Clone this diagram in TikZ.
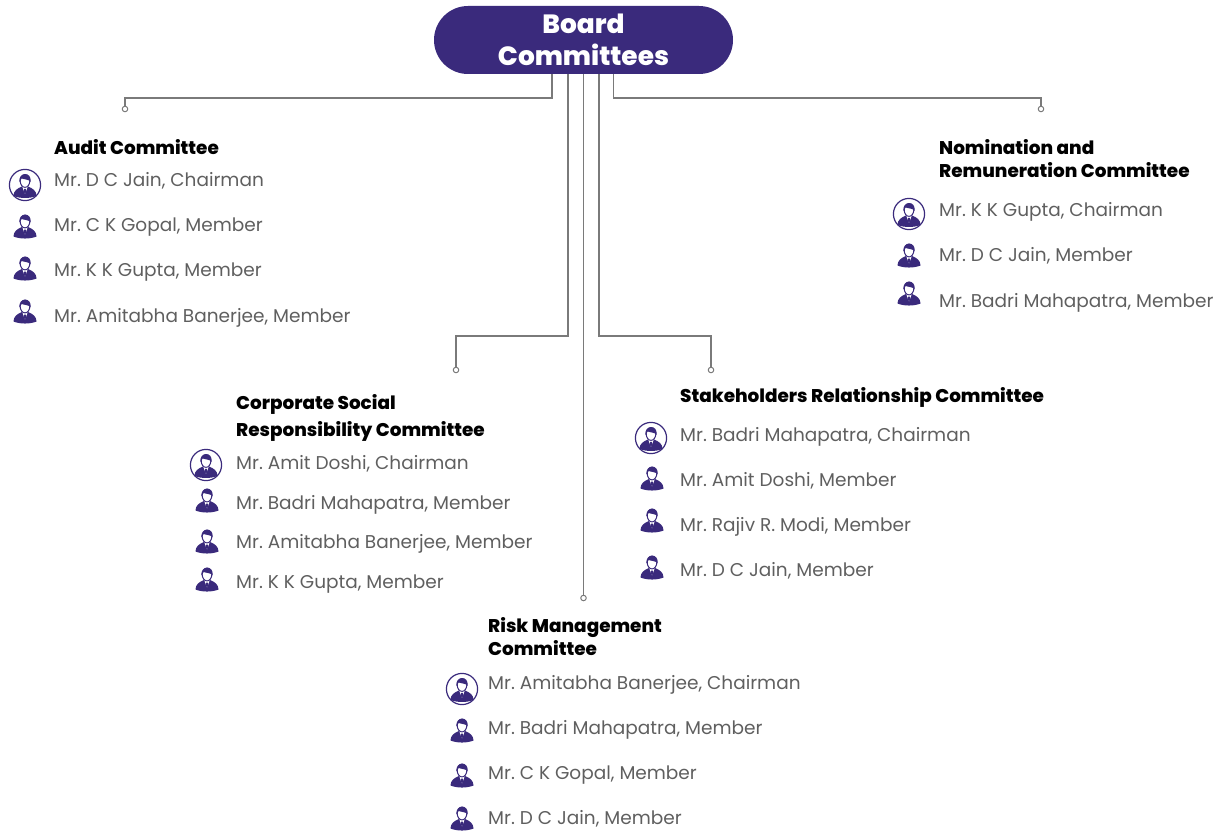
\documentclass[tikz,border=0pt]{standalone}
\usepackage{fontspec}
\setmainfont{Poppins}
\newfontfamily\heavyfont{Poppins ExtraBold}
\usetikzlibrary{positioning}
\definecolor{boardpurple}{HTML}{3A2A7C}
\definecolor{linkgray}{HTML}{7A7A7A}
\definecolor{membergray}{HTML}{5F5F5F}
\tikzset{
  boardpill/.style={fill=boardpurple,text=white,rounded corners=34pt,minimum width=299pt,minimum height=68pt,inner sep=0pt,font=\fontsize{26.4}{31.5}\heavyfont,align=center},
  titletext/.style={anchor=base west,inner sep=0pt,font=\fontsize{18.4}{23}\heavyfont\frenchspacing,align=left,text=black},
  membertext/.style={anchor=base west,inner sep=0pt,font=\fontsize{18.5}{23}\selectfont\frenchspacing,text=membergray},
  linkline/.style={draw=linkgray,line width=1.2pt},
  linkdot/.style={circle,draw=linkgray,fill=white,line width=1pt,inner sep=0pt,minimum size=5.5pt},
  personicon/.pic={
    \fill[boardpurple] (-11.5,10.5) .. controls (-11.5,5.5) and (-8,3) .. (-3,1) -- (3,1)
        .. controls (8,3) and (11.5,5.5) .. (11.5,10.5) .. controls (5,13.2) and (-5,13.2) .. (-11.5,10.5) -- cycle;
    \fill[white] (-2.8,1) -- (0,8.5) -- (2.8,1) -- cycle;
    \fill[boardpurple] (-0.8,3.5) -- (0.8,3.5) -- (0.8,7) -- (0,9) -- (-0.8,7) -- cycle;
    \draw[boardpurple,line width=1pt,fill=white] (0,-4.5) ellipse (4.8 and 6.4);
    \fill[boardpurple] (-5.6,-3.5) .. controls (-7,-13.5) and (7,-14.5) .. (5.6,-3.5)
        .. controls (4.8,-6) and (-1,-6) .. (-3.4,-7) .. controls (-4,-6) and (-4.8,-5) .. (-5.6,-3.5) -- cycle;
  },
  chairicon/.pic={
    \draw[boardpurple,line width=1.2pt,fill=white] (0,0) circle (15.6);
    \begin{scope}[scale=0.92,yshift=-0.5]
      \pic {personicon};
    \end{scope}
  }
}
\begin{document}
\begin{tikzpicture}[x=1pt,y=-1pt]
  \useasboundingbox (0,0) rectangle (1223,832);
  % the pill
  \node[boardpill] (board) at (583.5,40) {Board\\Committees};
  % connectors
  \node[linkdot] (auditdot) at (125,109) {};
  \node[linkdot] (csrdot) at (456,370) {};
  \node[linkdot] (riskdot) at (583.5,598) {};
  \node[linkdot] (stakedot) at (711,370) {};
  \node[linkdot] (nomdot) at (1041,109) {};
  \coordinate (auditknee) at (125,98);
  \coordinate (csrknee) at (456,336);
  \coordinate (stakeknee) at (711,336);
  \coordinate (nomknee) at (1041,98);
  \draw[linkline] ([xshift=-31.5]board.south) |- (auditknee) -- (auditdot);
  \draw[linkline] ([xshift=-15.5]board.south) |- (csrknee) -- (csrdot);
  \draw[linkline] (board.south) -- (riskdot);
  \draw[linkline] ([xshift=15.5]board.south) |- (stakeknee) -- (stakedot);
  \draw[linkline] ([xshift=30]board.south) |- (nomknee) -- (nomdot);
  % audit
  \node[titletext] (audittitle) at (54,154) {Audit Committee};
  \pic at (25,185) {chairicon};
  \foreach \n/\y/\who in {1/186/{Mr. D C Jain, Chairman},2/231/{Mr. C K Gopal, Member},3/276/{Mr. K K Gupta, Member},4/322/{Mr. Amitabha Banerjee, Member}} {
    \node[membertext] (audit\n) at (54,\y) {\who};
  }
  \foreach \y in {226,268,311} { \pic at (25,\y) {personicon}; }
  % nomination
  \node[titletext] (nomtitle) at (939,177) {Nomination and\\Remuneration Committee};
  \pic at (909,214) {chairicon};
  \foreach \n/\y/\who in {1/216/{Mr. K K Gupta, Chairman},2/261/{Mr. D C Jain, Member},3/307/{Mr. Badri Mahapatra, Member}} {
    \node[membertext] (nom\n) at (939,\y) {\who};
  }
  \foreach \y in {255,293} { \pic at (909,\y) {personicon}; }
  % csr
  \node[titletext] (csrtitle) at (236,436) {Corporate Social\\[4pt]Responsibility Committee};
  \pic at (206,465) {chairicon};
  \foreach \n/\y/\who in {1/469/{Mr. Amit Doshi, Chairman},2/509/{Mr. Badri Mahapatra, Member},3/548/{Mr. Amitabha Banerjee, Member},4/588/{Mr. K K Gupta, Member}} {
    \node[membertext] (csr\n) at (236,\y) {\who};
  }
  \foreach \y in {500,541,579} { \pic at (207,\y) {personicon}; }
  % stakeholders
  \node[titletext] (staketitle) at (680,402) {Stakeholders Relationship Committee};
  \pic at (651,438) {chairicon};
  \foreach \n/\y/\who in {1/441/{Mr. Badri Mahapatra, Chairman},2/486/{Mr. Amit Doshi, Member},3/531/{Mr. Rajiv R. Modi, Member},4/576/{Mr. D C Jain, Member}} {
    \node[membertext] (stake\n) at (680,\y) {\who};
  }
  \foreach \y in {478,520,567} { \pic at (652,\y) {personicon}; }
  % risk
  \node[titletext] (risktitle) at (488,655) {Risk Management\\Committee};
  \pic at (462,689) {chairicon};
  \foreach \n/\y/\who in {1/689/{Mr. Amitabha Banerjee, Chairman},2/734/{Mr. Badri Mahapatra, Member},3/779/{Mr. C K Gopal, Member},4/824/{Mr. D C Jain, Member}} {
    \node[membertext] (risk\n) at (488,\y) {\who};
  }
  \foreach \y in {730,775,818} { \pic at (462,\y) {personicon}; }
\end{tikzpicture}
\end{document}
